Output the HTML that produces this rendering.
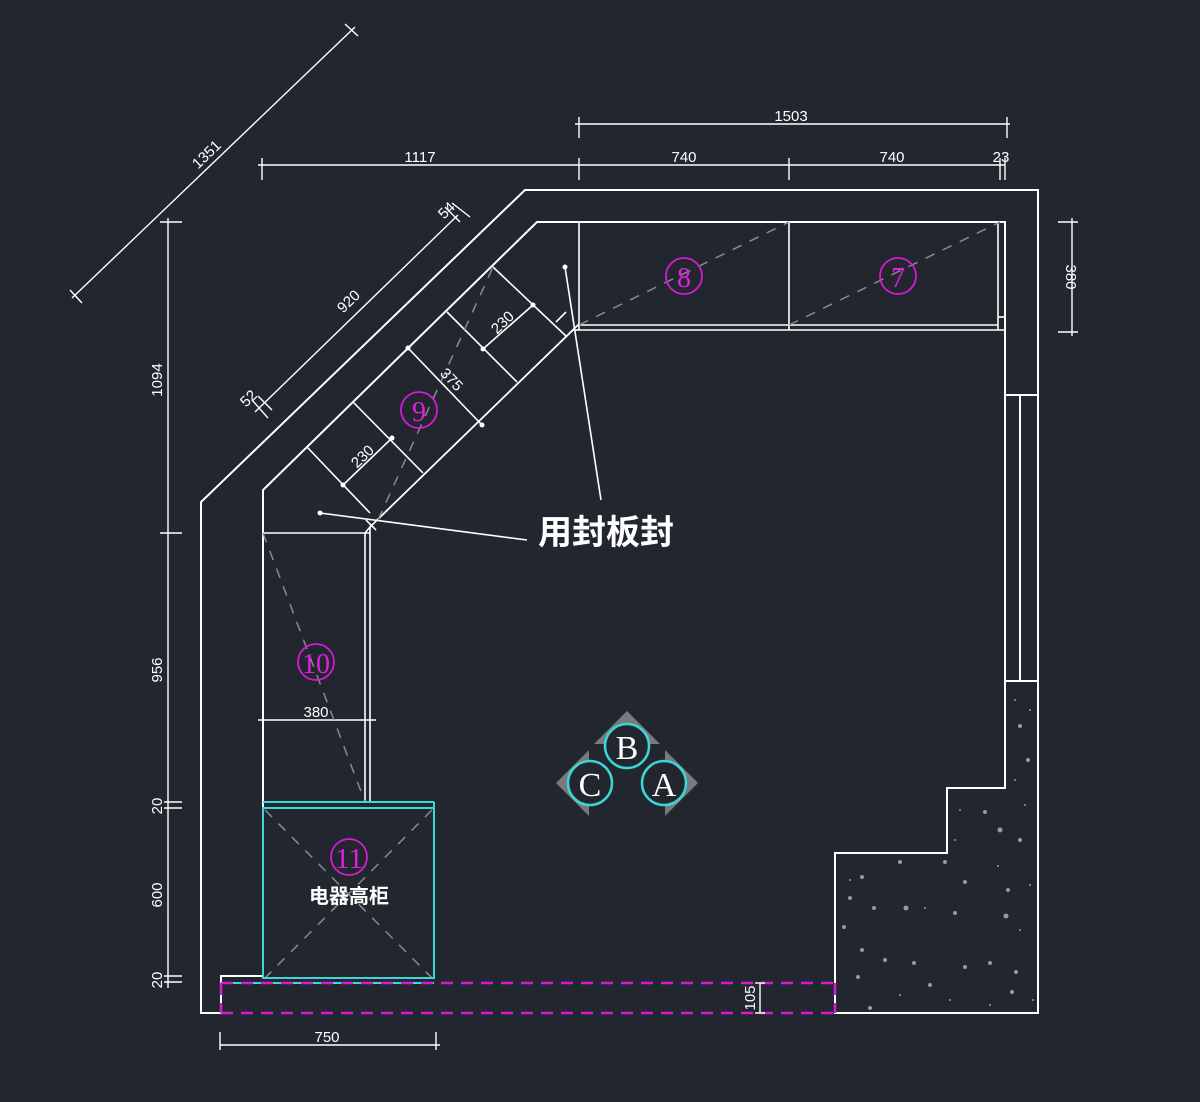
<!DOCTYPE html>
<html><head><meta charset="utf-8"><style>
html,body{margin:0;padding:0;background:#21262f;}
svg{display:block}
text{font-family:"Liberation Sans","Noto Sans CJK SC",sans-serif;}
</style></head><body>
<svg width="1200" height="1102" viewBox="0 0 1200 1102" xmlns="http://www.w3.org/2000/svg">
<rect width="1200" height="1102" fill="#21262f"/>
<g stroke="#fff" stroke-width="2" fill="none">
<!-- outer wall -->
<polyline points="221,1013 201,1013 201,502 525,190 1038,190 1038,1013 835,1013 835,853 947,853 947,788 1005,788 1005,681"/>
<!-- inner wall -->
<polyline points="263,976 263,490 537,222 1005,222 1005,395"/>
<polyline points="221,1013 221,976 263,976"/>
<line x1="1005" y1="395" x2="1005" y2="681"/>
<line x1="1020" y1="395" x2="1020" y2="681"/>
<line x1="1005" y1="395" x2="1038" y2="395"/>
<line x1="1005" y1="681" x2="1038" y2="681"/>
</g>
<g stroke="#fff" stroke-width="1.6" fill="none">
<!-- cabinets 8 7 -->
<line x1="579" y1="222" x2="579" y2="330"/>
<line x1="789" y1="222" x2="789" y2="330"/>
<line x1="998" y1="222" x2="998" y2="330"/>
<line x1="579" y1="325" x2="998" y2="325"/>
<line x1="579" y1="330" x2="1005" y2="330"/>
<line x1="998" y1="317" x2="1005" y2="317"/>
<!-- cabinet 9 -->
<line x1="370" y1="527" x2="573" y2="330"/>
<line x1="376" y1="521" x2="579" y2="324"/>
<line x1="307" y1="447" x2="370" y2="513"/>
<line x1="353" y1="402" x2="423" y2="473"/>
<line x1="408" y1="348" x2="482" y2="425"/>
<line x1="447" y1="312" x2="517" y2="382"/>
<line x1="493" y1="267" x2="567" y2="337"/>
<line x1="343" y1="485" x2="392" y2="438"/>
<line x1="483" y1="349" x2="533" y2="305"/>
<line x1="366" y1="520" x2="376" y2="530"/>
<line x1="556" y1="322" x2="566" y2="312"/>
<!-- cabinet 10 -->
<line x1="263" y1="533" x2="370" y2="533"/>
<polyline points="365,802 365,533 370,527 370,802"/>
<line x1="258" y1="720" x2="376" y2="720"/>
<!-- leaders -->
<line x1="565" y1="267" x2="601" y2="500"/>
<line x1="320" y1="513" x2="527" y2="540"/>
<line x1="579" y1="330" x2="573" y2="330"/>
</g>
<g fill="#fff"><circle cx="565" cy="267" r="2.5"/><circle cx="320" cy="513" r="2.5"/>
<circle cx="343" cy="485" r="2.5"/><circle cx="392" cy="438" r="2.5"/><circle cx="483" cy="349" r="2.5"/><circle cx="533" cy="305" r="2.5"/><circle cx="408" cy="348" r="2.5"/><circle cx="482" cy="425" r="2.5"/></g>
<!-- gray dashed -->
<g stroke="#8a8a8a" stroke-width="1.5" stroke-dasharray="10,9" fill="none">
<line x1="579" y1="325" x2="789" y2="222"/>
<line x1="789" y1="325" x2="1000" y2="222"/>
<line x1="378" y1="520" x2="493" y2="267"/>
<line x1="263" y1="533" x2="365" y2="802"/>
<line x1="265" y1="810" x2="432" y2="978"/>
<line x1="432" y1="810" x2="265" y2="978"/>
</g>
<!-- cabinet 11 cyan -->
<g stroke="#3cd6d6" stroke-width="2" fill="none">
<rect x="263" y="808" width="171" height="170"/>
<line x1="263" y1="802" x2="434" y2="802"/>
<line x1="434" y1="802" x2="434" y2="808"/>
<line x1="221" y1="983" x2="434" y2="983"/>
</g>
<!-- magenta dashed -->
<g stroke="#d61ad6" stroke-width="2.5" stroke-dasharray="12,8" fill="none">
<line x1="221" y1="983" x2="835" y2="983"/>
<line x1="221" y1="1013" x2="835" y2="1013"/>
<line x1="221" y1="983" x2="221" y2="1013"/>
<line x1="835" y1="983" x2="835" y2="1013"/>
</g>
<!-- hatch dots -->
<g fill="#9a9a9a">
<circle cx="1015" cy="700" r="1"/><circle cx="1030" cy="710" r="1"/><circle cx="1020" cy="726" r="2"/><circle cx="1028" cy="760" r="2"/><circle cx="1015" cy="780" r="1"/>
<circle cx="960" cy="810" r="1"/><circle cx="985" cy="812" r="2"/><circle cx="1000" cy="830" r="2.5"/><circle cx="1025" cy="805" r="1"/><circle cx="1020" cy="840" r="2"/><circle cx="955" cy="840" r="1"/>
<circle cx="850" cy="880" r="1"/><circle cx="862" cy="877" r="2"/><circle cx="900" cy="862" r="2"/><circle cx="945" cy="862" r="2"/><circle cx="965" cy="882" r="2"/><circle cx="998" cy="866" r="1"/><circle cx="1008" cy="890" r="2"/><circle cx="1030" cy="885" r="1"/>
<circle cx="850" cy="898" r="2"/><circle cx="874" cy="908" r="2"/><circle cx="906" cy="908" r="2.5"/><circle cx="925" cy="908" r="1"/><circle cx="955" cy="913" r="2"/><circle cx="1006" cy="916" r="2.5"/><circle cx="1020" cy="930" r="1"/>
<circle cx="844" cy="927" r="2"/><circle cx="862" cy="950" r="2"/><circle cx="885" cy="960" r="2"/><circle cx="914" cy="963" r="2"/><circle cx="965" cy="967" r="2"/><circle cx="990" cy="963" r="2"/><circle cx="1016" cy="972" r="2"/>
<circle cx="858" cy="977" r="2"/><circle cx="930" cy="985" r="2"/><circle cx="1012" cy="992" r="2"/><circle cx="870" cy="1008" r="2"/><circle cx="950" cy="1000" r="1"/><circle cx="990" cy="1005" r="1"/><circle cx="900" cy="995" r="1"/><circle cx="1033" cy="1000" r="1"/>
</g>
<!-- dimension lines -->
<g stroke="#fff" stroke-width="1.4" fill="none">
<line x1="258" y1="165" x2="1005" y2="165"/>
<line x1="262" y1="158" x2="262" y2="180"/><line x1="579" y1="158" x2="579" y2="180"/><line x1="789" y1="158" x2="789" y2="180"/><line x1="1000" y1="158" x2="1000" y2="180"/><line x1="1005" y1="158" x2="1005" y2="180"/>
<line x1="575" y1="124" x2="1010" y2="124"/>
<line x1="579" y1="117" x2="579" y2="138"/><line x1="1007" y1="117" x2="1007" y2="138"/>
<line x1="168" y1="218" x2="168" y2="988"/>
<line x1="160" y1="222" x2="182" y2="222"/><line x1="160" y1="533" x2="182" y2="533"/><line x1="164" y1="802" x2="182" y2="802"/><line x1="164" y1="808" x2="182" y2="808"/><line x1="164" y1="976" x2="182" y2="976"/><line x1="164" y1="982" x2="182" y2="982"/>
<line x1="1072" y1="218" x2="1072" y2="336"/>
<line x1="1058" y1="222" x2="1078" y2="222"/><line x1="1058" y1="332" x2="1078" y2="332"/>
<line x1="220" y1="1045" x2="440" y2="1045"/>
<line x1="220" y1="1032" x2="220" y2="1050"/><line x1="436" y1="1032" x2="436" y2="1050"/>
<line x1="760" y1="983" x2="760" y2="1013"/><line x1="755" y1="983" x2="765" y2="983"/><line x1="755" y1="1013" x2="765" y2="1013"/>
<line x1="72" y1="298" x2="355" y2="27"/>
<line x1="70" y1="290" x2="82" y2="303"/><line x1="345" y1="24" x2="358" y2="36"/>
<line x1="255" y1="412" x2="458" y2="215"/>
<line x1="252" y1="400" x2="268" y2="418"/><line x1="258" y1="396" x2="272" y2="410"/><line x1="445" y1="207" x2="460" y2="222"/><line x1="452" y1="203" x2="470" y2="217"/>
</g>
<!-- dim texts -->
<g fill="#fff" font-size="15">
<text x="420" y="162" text-anchor="middle">1117</text>
<text x="684" y="162" text-anchor="middle">740</text>
<text x="892" y="162" text-anchor="middle">740</text>
<text x="1001" y="162" text-anchor="middle">23</text>
<text x="791" y="121" text-anchor="middle">1503</text>
<text x="316" y="717" text-anchor="middle">380</text>
<text x="327" y="1042" text-anchor="middle">750</text>
<text transform="translate(162,380) rotate(-90)" text-anchor="middle">1094</text>
<text transform="translate(162,670) rotate(-90)" text-anchor="middle">956</text>
<text transform="translate(162,806) rotate(-90)" text-anchor="middle">20</text>
<text transform="translate(162,895) rotate(-90)" text-anchor="middle">600</text>
<text transform="translate(162,980) rotate(-90)" text-anchor="middle">20</text>
<text transform="translate(1066,277) rotate(90)" text-anchor="middle">380</text>
<text transform="translate(755,998) rotate(-90)" text-anchor="middle">105</text>
<text transform="translate(210,158) rotate(-44)" text-anchor="middle">1351</text>
<text transform="translate(352,305) rotate(-44)" text-anchor="middle">920</text>
<text transform="translate(252,402) rotate(-44)" text-anchor="middle">52</text>
<text transform="translate(450,214) rotate(-44)" text-anchor="middle">54</text>
<text transform="translate(366,460) rotate(-44)" text-anchor="middle">230</text>
<text transform="translate(506,326) rotate(-44)" text-anchor="middle">230</text>
<text transform="translate(448,383) rotate(46)" text-anchor="middle">375</text>
</g>
<!-- labels -->
<g stroke="#d61ad6" stroke-width="1.8" fill="none">
<circle cx="684" cy="276" r="18"/><circle cx="898" cy="276" r="18"/><circle cx="419" cy="410" r="18"/><circle cx="316" cy="662" r="18"/><circle cx="349" cy="857" r="18"/>
</g>
<g fill="#e020e0" font-size="28" font-family="Liberation Serif,serif" text-anchor="middle">
<text x="684" y="287" style="font-family:'Liberation Serif',serif">8</text>
<text x="898" y="287" style="font-family:'Liberation Serif',serif">7</text>
<text x="419" y="421" style="font-family:'Liberation Serif',serif">9</text>
<text x="316" y="673" style="font-family:'Liberation Serif',serif" textLength="28" lengthAdjust="spacingAndGlyphs">10</text>
<text x="349" y="868" style="font-family:'Liberation Serif',serif" textLength="28" lengthAdjust="spacingAndGlyphs">11</text>
</g>
<text x="349" y="903" fill="#fff" font-size="20" font-weight="bold" text-anchor="middle">电器高柜</text>
<text x="538" y="544" fill="#fff" font-size="34" font-weight="bold">用封板封</text>
<!-- compass ABC -->
<g fill="#7a7a7a">
<polygon points="627,711 660,744 594,744"/>
<polygon points="556,783 589,750 589,816"/>
<polygon points="698,783 665,750 665,816"/>
</g>
<g stroke="#3cd6d6" stroke-width="2.5" fill="#21262f">
<circle cx="627" cy="746" r="22"/><circle cx="590" cy="783" r="22"/><circle cx="664" cy="783" r="22"/>
</g>
<g fill="#fff" font-size="34" text-anchor="middle" style="font-family:'Liberation Serif',serif">
<text x="627" y="759" style="font-family:'Liberation Serif',serif">B</text>
<text x="590" y="796" style="font-family:'Liberation Serif',serif">C</text>
<text x="664" y="796" style="font-family:'Liberation Serif',serif">A</text>
</g>
</svg>
</body></html>
